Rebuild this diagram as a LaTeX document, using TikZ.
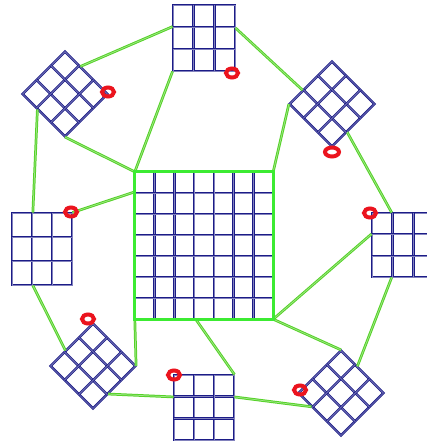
\documentclass[tikz,border=0pt]{standalone}
\usetikzlibrary{calc,shapes.geometric}
\definecolor{navy}{RGB}{28,28,135}
\definecolor{gline}{RGB}{85,210,40}
\definecolor{gbord}{RGB}{60,235,50}
\definecolor{mred}{RGB}{235,20,30}
\tikzset{
  gridln/.style={draw=navy, line width=0.95pt, double=navy!55!white, double distance=0.6pt},
  box/.style 2 args={gridln, rectangle, inner sep=0pt, minimum width=#1, minimum height=#2},
  link/.style={draw=gline, line width=1pt, double=gline!55!white, double distance=0.7pt},
  cborder/.style={draw=gbord, line width=3pt},
  marker/.style={ellipse, draw=mred, line width=4pt, minimum width=12pt, minimum height=9pt, inner sep=0pt},
}
\newcommand\gridin[2]{\foreach \f in {#2}{%
  \draw[gridln] ($(#1.north west)!\f!(#1.north east)$) -- ($(#1.south west)!\f!(#1.south east)$);
  \draw[gridln] ($(#1.north west)!\f!(#1.south west)$) -- ($(#1.north east)!\f!(#1.south east)$);}}
\begin{document}
\begin{tikzpicture}[x=1pt,y=-1pt]
\useasboundingbox (0,0) rectangle (427,445);
\clip (0,0) rectangle (427,445);
% nodes
\node[rectangle, inner sep=0pt, minimum width=138pt, minimum height=147pt] (c) at (204,245.5) {};
\node[box={62pt}{66pt}] (t) at (204,38) {};
\node[box={60pt}{60pt}, rotate=45] (tl) at (65,94) {};
\node[box={60pt}{60pt}, rotate=45] (tr) at (332,104) {};
\node[box={60pt}{72pt}] (l) at (42,249) {};
\node[box={62pt}{64pt}] (r) at (403,245) {};
\node[box={60pt}{60pt}, rotate=45] (bl) at (93,366) {};
\node[box={60pt}{65pt}] (b) at (204,407.5) {};
\node[box={60pt}{60pt}, rotate=45] (br) at (341,393) {};
% connectors
\draw[link] ($(t.north west)!0.33!(t.south west)$) -- ($(tl.north east)!0.36!(tl.south east)$);
\draw[link] ($(t.north east)!0.35!(t.south east)$) -- ($(tr.north west)!0.32!(tr.north east)$);
\draw[link] (t.south west) -- (c.north west);
\draw[link] (tl.south west) -- (c.north west);
\draw[link] ($(tl.north west)!0.36!(tl.south west)$) -- ($(l.north west)!0.35!(l.north east)$);
\draw[link] (tr.north west) -- (c.north east);
\draw[link] ($(tr.south west)!0.35!(tr.south east)$) -- ($(r.north west)!0.32!(r.north east)$);
\draw[link] (l.north east) -- ($(c.north west)!0.136!(c.south west)$);
\draw[link] ($(l.south west)!0.35!(l.south east)$) -- ($(bl.north west)!0.36!(bl.north east)$);
\draw[link] ($(r.north west)!0.33!(r.south west)$) -- (c.south east);
\draw[link] (c.south east) -- (br.north east);
\draw[link] ($(r.south west)!0.32!(r.south east)$) -- ($(br.north east)!0.38!(br.south east)$);
\draw[link] ($(c.south west)!0.44!(c.south east)$) -- (b.north east);
\draw[link] (c.south west) -- (bl.south east);
\draw[link] ($(bl.south west)!0.35!(bl.south east)$) -- ($(b.north west)!0.34!(b.south west)$);
\draw[link] ($(b.north east)!0.34!(b.south east)$) -- ($(br.north west)!0.32!(br.south west)$);
% grids
\gridin{c}{0.142857,0.285714,0.428571,0.571429,0.714286,0.857143}
\draw[cborder] (c.north west) rectangle (c.south east);
\foreach \n in {t,tl,tr,l,r,bl,b,br}{\gridin{\n}{0.3333,0.6667}}
% markers
\node[marker] (m1) at (232,73) {};
\node[marker] (m2) at (108,92) {};
\node[marker, minimum width=14pt] (m3) at (332,152) {};
\node[marker] (m4) at (71,212) {};
\node[marker] (m5) at (370,213) {};
\node[marker] (m6) at (88,319) {};
\node[marker] (m7) at (174,375) {};
\node[marker] (m8) at (300,390) {};
\end{tikzpicture}
\end{document}
